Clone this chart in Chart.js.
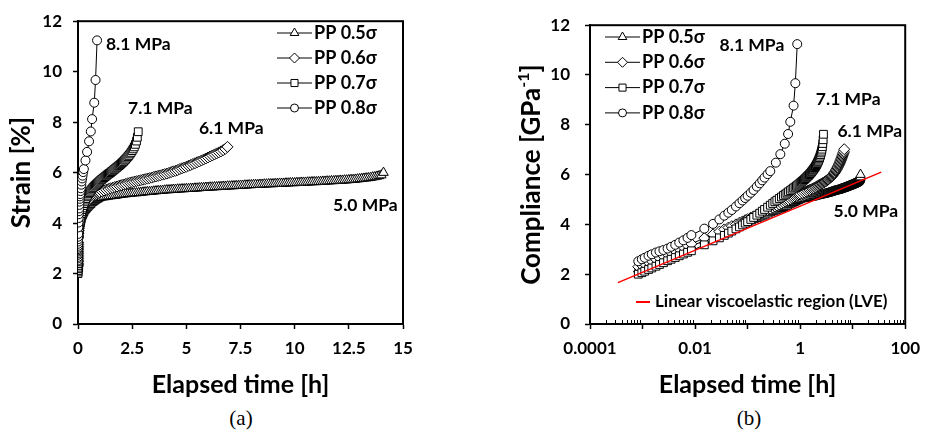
<!DOCTYPE html>
<html>
<head>
<meta charset="utf-8">
<script src="https://cdn.jsdelivr.net/npm/chart.js@4.4.1/dist/chart.umd.min.js"></script>
<style>
  body { margin: 0; background: #fff; }
  #wrap { position: relative; width: 929px; height: 437px; }
  #chartA { position: absolute; left: 0; top: 0; width: 460px; height: 400px; }
  #chartB { position: absolute; left: 460px; top: 0; width: 469px; height: 400px; }
  .cap { position: absolute; top: 406px; font: 21px 'Liberation Serif', 'Times New Roman', serif; color: #000; transform: translateX(-50%); }
</style>
</head>
<body>
<div id="wrap">
  <canvas id="chartA" width="460" height="400"></canvas>
  <canvas id="chartB" width="469" height="400"></canvas>
  <div class="cap" style="left:241px">(a)</div>
  <div class="cap" style="left:749px">(b)</div>
</div>
<script>
// elapsed time [h] and strain [%] (= compliance [GPa^-1])
const t05 = [0.00083, 0.00097, 0.0011, 0.0013, 0.0015, 0.0018, 0.0021, 0.0025, 0.003, 0.0035, 0.0042, 0.005, 0.006, 0.0072, 0.0085,
  0.015, 0.022, 0.029, 0.036, 0.043, 0.05, 0.06, 0.07, 0.08, 0.09, 0.1, 0.115, 0.13, 0.15, 0.17, 0.19, 0.21, 0.24, 0.27, 0.3,
  0.33, 0.36, 0.4, 0.44, 0.48, 0.52, 0.56, 0.6, 0.65, 0.7, 0.75, 0.8, 0.85, 0.9, 0.95, 1.0,
  1.1, 1.2, 1.3, 1.4, 1.5, 1.6, 1.7, 1.8, 1.9, 2.0, 2.1, 2.2, 2.3, 2.4, 2.5, 2.6, 2.7, 2.8, 2.9, 3.0,
  3.1, 3.2, 3.3, 3.4, 3.5, 3.6, 3.7, 3.8, 3.9, 4.0, 4.1, 4.2, 4.3, 4.4, 4.5, 4.6, 4.7, 4.8, 4.9, 5.0,
  5.1, 5.2, 5.3, 5.4, 5.5, 5.6, 5.7, 5.8, 5.9, 6.0, 6.1, 6.2, 6.3, 6.4, 6.5, 6.6, 6.7, 6.8, 6.9, 7.0,
  7.1, 7.2, 7.3, 7.4, 7.5, 7.6, 7.7, 7.8, 7.9, 8.0, 8.1, 8.2, 8.3, 8.4, 8.5, 8.6, 8.7, 8.8, 8.9, 9.0,
  9.1, 9.2, 9.3, 9.4, 9.5, 9.6, 9.7, 9.8, 9.9, 10.0, 10.1, 10.2, 10.3, 10.4, 10.5, 10.6, 10.7, 10.8, 10.9, 11.0,
  11.1, 11.2, 11.3, 11.4, 11.5, 11.6, 11.7, 11.8, 11.9, 12.0, 12.1, 12.2, 12.3, 12.4, 12.5, 12.6, 12.7, 12.8, 12.9, 13.0,
  13.1, 13.2, 13.3, 13.4, 13.5, 13.6, 13.7, 13.8, 13.9, 14.0, 14.1];
const v05 = [2.2, 2.26, 2.31, 2.38, 2.43, 2.5, 2.56, 2.63, 2.7, 2.76, 2.84, 2.91, 2.98, 3.05, 3.12,
  3.35, 3.5, 3.61, 3.69, 3.76, 3.82, 3.89, 3.95, 4.0, 4.04, 4.08, 4.13, 4.18, 4.23, 4.28, 4.32, 4.36, 4.41, 4.46, 4.5,
  4.53, 4.56, 4.6, 4.63, 4.67, 4.7, 4.73, 4.78, 4.81, 4.84, 4.87, 4.9, 4.93, 4.95, 4.98, 5.0,
  5.02, 5.03, 5.04, 5.06, 5.07, 5.08, 5.09, 5.1, 5.12, 5.13, 5.14, 5.15, 5.16, 5.17, 5.18, 5.19, 5.19, 5.2, 5.21, 5.22,
  5.23, 5.24, 5.24, 5.25, 5.26, 5.27, 5.28, 5.28, 5.29, 5.3, 5.31, 5.31, 5.32, 5.33, 5.33, 5.34, 5.34, 5.35, 5.35, 5.36,
  5.36, 5.37, 5.37, 5.38, 5.38, 5.39, 5.4, 5.4, 5.41, 5.41, 5.42, 5.42, 5.43, 5.43, 5.44, 5.44, 5.45, 5.45, 5.46, 5.46,
  5.47, 5.47, 5.48, 5.48, 5.49, 5.49, 5.5, 5.5, 5.51, 5.51, 5.52, 5.52, 5.52, 5.53, 5.53, 5.54, 5.54, 5.55, 5.55, 5.55,
  5.56, 5.56, 5.57, 5.57, 5.57, 5.58, 5.58, 5.59, 5.59, 5.59, 5.6, 5.6, 5.61, 5.61, 5.61, 5.62, 5.62, 5.63, 5.63, 5.63,
  5.64, 5.64, 5.65, 5.65, 5.66, 5.66, 5.67, 5.67, 5.68, 5.68, 5.69, 5.69, 5.7, 5.7, 5.71, 5.72, 5.72, 5.73, 5.74, 5.75,
  5.76, 5.77, 5.78, 5.79, 5.8, 5.82, 5.83, 5.85, 5.87, 5.9, 6.0];

const t06 = [0.00083, 0.00097, 0.0011, 0.0013, 0.0015, 0.0018, 0.0021, 0.0025, 0.003, 0.0035, 0.0042, 0.005, 0.006, 0.0072, 0.0085,
  0.015, 0.022, 0.029, 0.036, 0.043, 0.05, 0.06, 0.07, 0.08, 0.09, 0.1, 0.115, 0.13, 0.15, 0.17, 0.19, 0.21, 0.24, 0.27, 0.3,
  0.33, 0.36, 0.4, 0.44, 0.48, 0.52, 0.56, 0.6, 0.65, 0.7, 0.75, 0.8, 0.85, 0.9, 0.95, 1.0,
  1.1, 1.2, 1.3, 1.4, 1.5, 1.6, 1.7, 1.8, 1.9, 2.0, 2.1, 2.2, 2.3, 2.4, 2.5, 2.6, 2.7, 2.8, 2.9, 3.0,
  3.1, 3.2, 3.3, 3.4, 3.5, 3.6, 3.7, 3.8, 3.9, 4.0, 4.1, 4.2, 4.3, 4.4, 4.5, 4.6, 4.7, 4.8, 4.9, 5.0,
  5.1, 5.2, 5.3, 5.4, 5.5, 5.6, 5.7, 5.8, 5.9, 6.0, 6.1, 6.2, 6.3, 6.4, 6.5, 6.6, 6.7, 6.8, 6.9];
const v06 = [2.3, 2.36, 2.41, 2.48, 2.53, 2.6, 2.66, 2.73, 2.8, 2.86, 2.94, 3.01, 3.08, 3.15, 3.22,
  3.45, 3.6, 3.71, 3.8, 3.87, 3.93, 4.0, 4.07, 4.12, 4.17, 4.21, 4.27, 4.32, 4.38, 4.43, 4.48, 4.52, 4.58, 4.63, 4.68,
  4.72, 4.76, 4.8, 4.84, 4.88, 4.92, 4.95, 4.98, 5.02, 5.06, 5.09, 5.12, 5.15, 5.18, 5.2, 5.23,
  5.26, 5.29, 5.32, 5.35, 5.38, 5.4, 5.43, 5.45, 5.48, 5.5, 5.53, 5.55, 5.58, 5.6, 5.62, 5.64, 5.66, 5.68, 5.7, 5.72,
  5.74, 5.76, 5.78, 5.8, 5.83, 5.85, 5.87, 5.89, 5.92, 5.94, 5.96, 5.99, 6.02, 6.05, 6.07, 6.1, 6.14, 6.17, 6.2, 6.23,
  6.27, 6.3, 6.34, 6.37, 6.41, 6.44, 6.48, 6.52, 6.56, 6.6, 6.64, 6.68, 6.72, 6.76, 6.8, 6.84, 6.89, 6.94, 7.02];

const t07 = [0.00083, 0.00097, 0.0011, 0.0013, 0.0015, 0.0018, 0.0021, 0.0025, 0.003, 0.0035, 0.0042, 0.005, 0.006, 0.0072, 0.0085,
  0.015, 0.022, 0.029, 0.036, 0.043, 0.05, 0.06, 0.07, 0.08, 0.09, 0.1, 0.115, 0.13, 0.15, 0.17, 0.19, 0.21, 0.24, 0.27, 0.3,
  0.33, 0.36, 0.4, 0.44, 0.48, 0.52, 0.56, 0.6, 0.65, 0.7, 0.75, 0.8, 0.85, 0.9, 0.95, 1.0,
  1.05, 1.1, 1.15, 1.2, 1.25, 1.3, 1.35, 1.4, 1.45, 1.5, 1.55, 1.6, 1.65, 1.7, 1.75, 1.8, 1.85, 1.9, 1.95, 2.0,
  2.05, 2.1, 2.15, 2.2, 2.25, 2.3, 2.35, 2.4, 2.45, 2.5, 2.55, 2.6, 2.65, 2.7, 2.74, 2.78];
const v07 = [2.0, 2.06, 2.12, 2.19, 2.25, 2.32, 2.39, 2.46, 2.54, 2.6, 2.67, 2.74, 2.81, 2.88, 2.94,
  3.18, 3.34, 3.46, 3.56, 3.65, 3.73, 3.82, 3.9, 3.98, 4.05, 4.11, 4.2, 4.28, 4.37, 4.45, 4.53, 4.6, 4.69, 4.77, 4.84,
  4.91, 4.97, 5.04, 5.1, 5.16, 5.21, 5.26, 5.31, 5.36, 5.41, 5.46, 5.5, 5.54, 5.58, 5.62, 5.66,
  5.7, 5.73, 5.77, 5.8, 5.84, 5.87, 5.91, 5.94, 5.97, 6.0, 6.04, 6.07, 6.11, 6.14, 6.18, 6.21, 6.25, 6.28, 6.32, 6.36,
  6.4, 6.44, 6.49, 6.53, 6.58, 6.63, 6.68, 6.74, 6.8, 6.87, 6.94, 7.02, 7.12, 7.25, 7.4, 7.62];

const t08 = [0.00083, 0.00097, 0.0011, 0.0013, 0.0015, 0.0018, 0.0021, 0.0025, 0.003, 0.0035, 0.0042, 0.005, 0.006, 0.0072, 0.0085,
  0.015, 0.022, 0.029, 0.036, 0.043, 0.05, 0.06, 0.07, 0.08, 0.09, 0.1, 0.115, 0.13, 0.15, 0.17, 0.19, 0.21, 0.24, 0.27,
  0.345, 0.42, 0.51, 0.59, 0.65, 0.75, 0.81, 0.88];
const v08 = [2.52, 2.6, 2.66, 2.74, 2.8, 2.87, 2.92, 2.97, 3.03, 3.1, 3.18, 3.27, 3.36, 3.46, 3.57,
  3.83, 4.02, 4.2, 4.35, 4.47, 4.58, 4.72, 4.85, 4.96, 5.06, 5.15, 5.27, 5.38, 5.52, 5.65, 5.77, 5.88, 6.02, 6.14,
  6.48, 6.82, 7.24, 7.63, 8.12, 8.77, 9.67, 11.24];

// linear viscoelastic fit, end points
const lveTime = [0.00034, 35];
const lveValue = [1.66, 6.1];

const seriesNames = ['PP 0.5σ', 'PP 0.6σ', 'PP 0.7σ', 'PP 0.8σ'];
const stressLabels = ['5.0 MPa', '6.1 MPa', '7.1 MPa', '8.1 MPa'];
const markers = ['triangle', 'rectRot', 'rect', 'circle'];
const radii = [5.5, 5.5, 5.5, 4.5];

const xTicksA = [0, 2.5, 5, 7.5, 10, 12.5, 15];
const xTicksB = [0.0001, 0.001, 0.01, 0.1, 1, 10, 100];
const xLabelsB = ['0.0001', '', '0.01', '', '1', '', '100'];
const yTicks = [0, 2, 4, 6, 8, 10, 12];

const times = [t05, t06, t07, t08];
const values = [v05, v06, v07, v08];

const FONT = 'Lato, "DejaVu Sans", sans-serif';
Chart.defaults.font.family = FONT;
Chart.defaults.color = '#000';

function pairs(t, v) {
  return t.map((x, i) => ({ x: x, y: v[i] }));
}

function makeSets() {
  return seriesNames.map((name, i) => ({
    label: name,
    data: pairs(times[i], values[i]),
    showLine: true,
    borderColor: '#000',
    borderWidth: 1,
    pointStyle: markers[i],
    pointRadius: radii[i],
    pointBackgroundColor: '#fff',
    pointBorderColor: '#000',
    pointBorderWidth: 1,
    order: 4 - i
  }));
}

function drawMarker(ctx, style, x, y, r) {
  ctx.beginPath();
  if (style === 'circle') {
    ctx.arc(x, y, r, 0, Math.PI * 2);
  } else if (style === 'rect') {
    const s = r * Math.SQRT1_2;
    ctx.rect(x - s, y - s, 2 * s, 2 * s);
  } else if (style === 'rectRot') {
    ctx.moveTo(x - r, y); ctx.lineTo(x, y - r); ctx.lineTo(x + r, y); ctx.lineTo(x, y + r); ctx.closePath();
  } else {
    ctx.moveTo(x, y - r);
    ctx.lineTo(x + 0.866 * r, y + 0.5 * r);
    ctx.lineTo(x - 0.866 * r, y + 0.5 * r);
    ctx.closePath();
  }
  ctx.fillStyle = '#fff';
  ctx.fill();
  ctx.strokeStyle = '#000';
  ctx.lineWidth = 1;
  ctx.stroke();
}

// box around the plot area
const frame = {
  id: 'frame',
  beforeDatasetsDraw(chart) {
    const { ctx, chartArea: a } = chart;
    ctx.save();
    ctx.strokeStyle = '#000';
    ctx.lineWidth = 2;
    ctx.strokeRect(a.left, a.top, a.right - a.left, a.bottom - a.top);
    ctx.restore();
  }
};

function notesPlugin(notes) {
  return {
    id: 'notes',
    afterDatasetsDraw(chart) {
      const { ctx, scales } = chart;
      ctx.save();
      ctx.font = 'bold 17.5px ' + FONT;
      ctx.fillStyle = '#000';
      ctx.textAlign = 'left';
      ctx.textBaseline = 'middle';
      notes.forEach(n => ctx.fillText(n.text, scales.x.getPixelForValue(n.x), scales.y.getPixelForValue(n.y)));
      ctx.restore();
    }
  };
}

function legendPlugin(box) {
  return {
    id: 'seriesLegend',
    afterDraw(chart) {
      const ctx = chart.ctx;
      ctx.save();
      seriesNames.forEach((name, i) => {
        const y = box.y + i * box.dy;
        ctx.strokeStyle = '#000';
        ctx.lineWidth = 1;
        ctx.beginPath();
        ctx.moveTo(box.x, y);
        ctx.lineTo(box.x + 35, y);
        ctx.stroke();
        drawMarker(ctx, markers[i], box.x + 17.5, y, radii[i] - 0.5);
        ctx.font = 'bold 18px ' + FONT;
        ctx.fillStyle = '#000';
        ctx.textAlign = 'left';
        ctx.textBaseline = 'middle';
        ctx.fillText(name, box.x + 37, y);
      });
      if (box.lve) {
        ctx.strokeStyle = '#ff0000';
        ctx.lineWidth = 2;
        ctx.beginPath();
        ctx.moveTo(box.lve.x, box.lve.y);
        ctx.lineTo(box.lve.x + 14, box.lve.y);
        ctx.stroke();
        ctx.font = 'bold 17px ' + FONT;
        ctx.fillStyle = '#000';
        ctx.textBaseline = 'middle';
        ctx.fillText('Linear viscoelastic region (LVE)', box.lve.x + 19, box.lve.y);
      }
      ctx.restore();
    }
  };
}

// log axis minor ticks (inside) and the y title with a superscript
const logExtras = {
  id: 'logExtras',
  afterDraw(chart) {
    const { ctx, chartArea: a, scales } = chart;
    ctx.save();
    ctx.strokeStyle = '#000';
    ctx.lineWidth = 1;
    ctx.beginPath();
    xTicksB.slice(0, -1).forEach(d => {
      for (let k = 2; k <= 9; k++) {
        const px = Math.round(scales.x.getPixelForValue(k * d)) + 0.5;
        ctx.moveTo(px, a.bottom);
        ctx.lineTo(px, a.bottom - 4);
      }
    });
    ctx.stroke();

    const parts = [['Compliance [GPa', 'bold 26px ' + FONT, 0], ['-1', 'bold 16px ' + FONT, -8], [']', 'bold 26px ' + FONT, 0]];
    ctx.translate(72, (a.top + a.bottom) / 2);
    ctx.rotate(-Math.PI / 2);
    let total = 0;
    parts.forEach(p => { ctx.font = p[1]; total += ctx.measureText(p[0]).width; });
    let x = -total / 2;
    ctx.fillStyle = '#000';
    ctx.textAlign = 'left';
    ctx.textBaseline = 'middle';
    parts.forEach(p => { ctx.font = p[1]; ctx.fillText(p[0], x, p[2]); x += ctx.measureText(p[0]).width; });
    ctx.restore();
  }
};

const tickFont = { family: FONT, size: 17, weight: 'bold' };
const xTitleFont = { family: FONT, size: 25, weight: 'bold' };
const yTitleFont = { family: FONT, size: 26, weight: 'bold' };

function xAxis(extra) {
  return Object.assign({
    position: 'bottom',
    ticks: { font: tickFont, color: '#000', padding: 9, maxRotation: 0, autoSkip: false },
    grid: { drawOnChartArea: false, tickLength: 5, tickColor: '#000', tickWidth: 1.5 },
    border: { color: '#000', width: 2 },
    title: { display: true, text: 'Elapsed time [h]', font: xTitleFont, color: '#000', padding: { top: 0, bottom: 0 } },
    afterFit(scale) { scale.height = 76; }
  }, extra);
}

function yAxis(width, pad, showTitle) {
  return {
    min: 0,
    max: 12,
    afterBuildTicks(scale) { scale.ticks = yTicks.map(v => ({ value: v })); },
    ticks: { font: tickFont, color: '#000', padding: pad },
    grid: { drawOnChartArea: false, tickLength: 5, tickColor: '#000', tickWidth: 1.5 },
    border: { color: '#000', width: 2 },
    title: { display: showTitle, text: 'Strain [%]', font: yTitleFont, color: '#000', padding: { top: 6, bottom: 0 } },
    afterFit(scale) { scale.width = width; }
  };
}

const baseOptions = {
  responsive: false,
  animation: false,
  devicePixelRatio: 1,
  events: [],
  plugins: { legend: { display: false }, tooltip: { enabled: false } }
};

new Chart(document.getElementById('chartA'), {
  type: 'scatter',
  data: { datasets: makeSets() },
  options: Object.assign({}, baseOptions, {
    layout: { padding: { top: 19, right: 57, left: 0, bottom: 0 } },
    scales: {
      x: xAxis({
        type: 'linear', min: 0, max: 15,
        afterBuildTicks(scale) { scale.ticks = xTicksA.map(v => ({ value: v })); }
      }),
      y: yAxis(78, 11, true)
    }
  }),
  plugins: [frame,
    notesPlugin([
      { text: stressLabels[3], x: 1.29, y: 11.1 },
      { text: stressLabels[2], x: 2.31, y: 8.54 },
      { text: stressLabels[1], x: 5.58, y: 7.75 },
      { text: stressLabels[0], x: 11.77, y: 4.72 }
    ]),
    legendPlugin({ x: 277, y: 33, dy: 25 })]
});

const setsB = makeSets();
setsB.push({
  label: 'Linear viscoelastic region (LVE)',
  data: pairs(lveTime, lveValue),
  showLine: true,
  borderColor: '#ff0000',
  borderWidth: 1.5,
  pointRadius: 0,
  order: 0
});

new Chart(document.getElementById('chartB'), {
  type: 'scatter',
  data: { datasets: setsB },
  options: Object.assign({}, baseOptions, {
    layout: { padding: { top: 19, right: 18, left: 0, bottom: 0 } },
    scales: {
      x: xAxis({
        type: 'logarithmic', min: 0.0001, max: 100,
        afterBuildTicks(scale) { scale.ticks = xTicksB.map(v => ({ value: v })); },
        ticks: {
          font: tickFont, color: '#000', padding: 9, maxRotation: 0, autoSkip: false,
          callback: (v, i) => xLabelsB[i]
        }
      }),
      y: yAxis(130, 15, false)
    }
  }),
  plugins: [frame, logExtras,
    notesPlugin([
      { text: stressLabels[3], x: 0.0293, y: 11.21 },
      { text: stressLabels[2], x: 1.99, y: 9.01 },
      { text: stressLabels[1], x: 5.13, y: 7.75 },
      { text: stressLabels[0], x: 4.32, y: 4.52 }
    ]),
    legendPlugin({ x: 145, y: 37, dy: 25.3, lve: { x: 176, y: 302 } })]
});
</script>
</body>
</html>
